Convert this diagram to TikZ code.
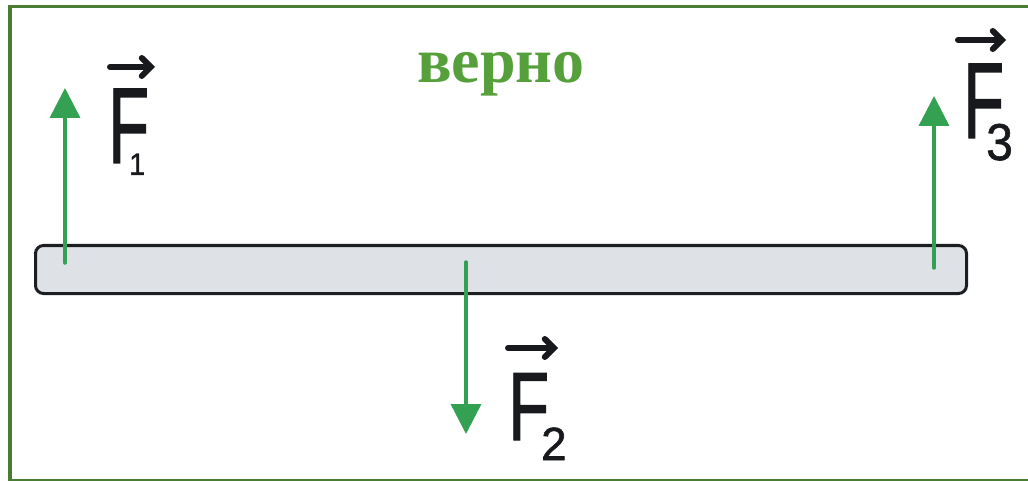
\documentclass[tikz,border=0pt]{standalone}
\usepackage{fontspec}
\setmainfont{Liberation Serif}
\newfontfamily\labfont[FakeBold=1.2]{Liberation Sans}
\usetikzlibrary{arrows.meta}
\definecolor{framegreen}{HTML}{4A7D34}
\definecolor{forcegreen}{HTML}{34A052}
\definecolor{titlegreen}{HTML}{56A03C}
\definecolor{barfill}{HTML}{DEE1E6}
\definecolor{barline}{HTML}{1C1E21}
\definecolor{ink}{HTML}{17191C}
\tikzset{
  force/.style={draw=forcegreen, line width=3.5pt, line cap=round, -{Triangle[width=30pt,length=30pt]}},
  fletter/.style={inner sep=0pt, anchor=base west, text=ink, font=\labfont\fontsize{108}{108}\selectfont},
  fsub/.style={inner sep=0pt, anchor=base west, text=ink, font=\labfont\fontsize{48}{48}\selectfont},
  vecarrow/.style={draw=ink, line width=6pt, line cap=round, -{Straight Barb[length=9pt,width=18pt,line cap=round]}},
}
\begin{document}
\begin{tikzpicture}[x=1pt,y=-1pt]
\useasboundingbox (0,0) rectangle (1028,481);
% frame
\draw[framegreen, line width=4pt] (10,480) -- (10,6.5);
\draw[framegreen, line width=3pt] (8,6.5) -- (1028,6.5);
\draw[framegreen, line width=1.5pt] (8,480) -- (1028,480);
% title
\node[text=titlegreen, font=\bfseries\fontsize{64}{64}\selectfont, inner sep=0pt, anchor=base] (title) at (501,83) {верно};
% bar
\node[draw=barline, fill=barfill, line width=3pt, rounded corners=8pt, minimum width=931pt, minimum height=48pt, inner sep=0pt, anchor=north west] (bar) at (34,244) {};
% forces
\coordinate (f1s) at (65,263);
\coordinate (f1e) at (65,88);
\coordinate (f2s) at (466,262);
\coordinate (f2e) at (466,434);
\coordinate (f3s) at (934,268);
\coordinate (f3e) at (934,96);
\draw[force] (f1s) -- (f1e);
\draw[force] (f2s) -- (f2e);
\draw[force] (f3s) -- (f3e);
% labels
\node[fletter] (F1) at (108,163) {\scalebox{0.62}[1]{F}};
\node[fsub] (s1) at (129,175) {\scalebox{0.6}[0.65]{1}};
\draw[vecarrow] (110,67) -- (155,67);
\node[fletter] (F2) at (508,440) {\scalebox{0.62}[0.9]{F}};
\node[fsub] (s2) at (541,460) {\scalebox{0.95}[0.97]{2}};
\draw[vecarrow] (508,348) -- (558,348);
\node[fletter] (F3) at (963,138) {\scalebox{0.62}[1]{F}};
\node[fsub] (s3) at (986,160) {\scalebox{1}[1.08]{3}};
\draw[vecarrow] (958,40) -- (1006,40);
\end{tikzpicture}
\end{document}
